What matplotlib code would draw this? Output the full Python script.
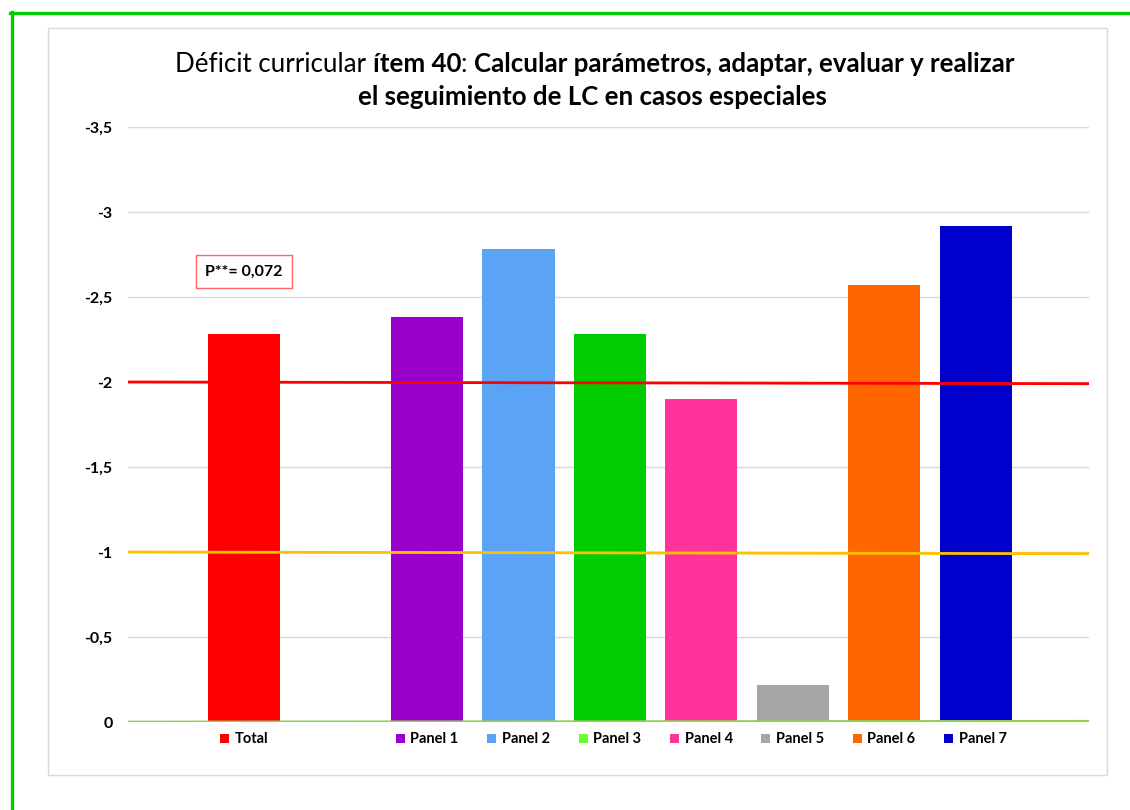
import matplotlib
matplotlib.use("Agg")
import matplotlib.pyplot as plt
import numpy as np
from matplotlib.patches import Rectangle
from matplotlib.lines import Line2D
from matplotlib.offsetbox import DrawingArea, TextArea, HPacker, AnnotationBbox

plt.rcParams['font.family'] = ['Lato', 'DejaVu Sans']

# datos
etiquetas = ["Total", "Panel 1", "Panel 2", "Panel 3", "Panel 4", "Panel 5", "Panel 6", "Panel 7"]
posiciones = [0, 2, 3, 4, 5, 6, 7, 8]
valores = [-2.28, -2.38, -2.78, -2.28, -1.90, -0.22, -2.57, -2.92]
colores = ["#FF0000", "#9900CC", "#5BA3F5", "#00CC00", "#FF3399", "#A6A6A6", "#FF6600", "#0000CC"]
colores_leyenda = ["#FF0000", "#9900CC", "#5BA3F5", "#66FF33", "#FF3399", "#A6A6A6", "#FF6600", "#0000CC"]
# lineas de referencia (valor a la izquierda, valor a la derecha)
ref_roja = [-2.0, -1.99]
ref_amarilla = [-1.0, -0.99]
ref_verde = [0.0, -0.004]
ticks_y = [0, -0.5, -1, -1.5, -2, -2.5, -3, -3.5]
ticks_txt = ["0", "-0,5", "-1", "-1,5", "-2", "-2,5", "-3", "-3,5"]
texto_p = "P**= 0,072"

fig = plt.figure(figsize=(11.3, 8.1), dpi=100)
ax = fig.add_axes([128/1130, 1-722/810, (1089-128)/1130, (722-127)/810])

xlim = (-1.27, 9.24)
ax.set_xlim(xlim)
ax.set_ylim(0, -3.5)

for y in ticks_y:
    ax.axhline(y, color="#D9D9D9", lw=1, zorder=0)

ax.bar(posiciones, valores, width=0.79, color=colores, zorder=2)

ax.plot(xlim, ref_roja, color="#FF0000", lw=2, zorder=3, solid_capstyle='butt')
ax.plot(xlim, ref_amarilla, color="#FFC000", lw=2, zorder=3, solid_capstyle='butt')
ax.plot(xlim, ref_verde, color="#92D050", lw=2, zorder=3, solid_capstyle='butt')

ax.set_yticks(ticks_y)
ax.set_yticklabels(ticks_txt, fontweight='bold', fontsize=11.5)
ax.tick_params(axis='y', length=0, pad=11)
ax.set_xticks([])
for s in ax.spines.values():
    s.set_visible(False)

# leyenda bajo cada barra
for x, lab, c in zip(posiciones, etiquetas, colores_leyenda):
    da = DrawingArea(6.5, 6.5, 0, 0)
    da.add_artist(Rectangle((0, 0), 6.5, 6.5, fc=c, ec='none'))
    ta = TextArea(lab, textprops=dict(fontsize=10.5, fontweight='bold', color='black'))
    box = HPacker(children=[da, ta], align='center', pad=0, sep=4)
    ab = AnnotationBbox(box, (x, 0), xycoords=ax.get_xaxis_transform(),
                        xybox=(0, -7), boxcoords='offset points',
                        box_alignment=(0.5, 1), frameon=False)
    ax.add_artist(ab)

# cuadro de significacion
ax.text(0.0, -2.65, texto_p, ha='center', va='center', fontsize=11.5, fontweight='bold',
        zorder=5, bbox=dict(boxstyle='square,pad=0.6', fc='white', ec='#FF6666', lw=1))

# marco del grafico y borde verde
fig.add_artist(Rectangle((48/1130, 1-775/810), 1059/1130, 747/810, transform=fig.transFigure,
                         fill=False, ec="#D9D9D9", lw=1))
fig.add_artist(Line2D([11.5/1130, 11.5/1130], [0, 1-11.5/810], transform=fig.transFigure,
                      color="#00CC00", lw=2.4))
fig.add_artist(Line2D([10/1130, 1], [1-13/810, 1-13/810], transform=fig.transFigure,
                      color="#00CC00", lw=2.4))

# titulo con partes en negrita
def linea_rica(partes, xc, y, fs):
    txts = []
    for t, w in partes:
        txts.append(fig.text(0, y, t, fontsize=fs, fontweight=w, va='center', ha='left'))
    r = fig.canvas.get_renderer()
    anchos = [tx.get_window_extent(r).width for tx in txts]
    total = sum(anchos)
    x = xc * fig.bbox.width - total / 2
    for tx, a in zip(txts, anchos):
        tx.set_x(x / fig.bbox.width)
        x += a

fig.canvas.draw()
linea_rica([("Déficit curricular ", 'normal'), ("ítem 40", 'bold'), (": ", 'normal'),
            ("Calcular parámetros, adaptar, evaluar y realizar", 'bold')], 595/1130, 1-64/810, 18.6)
linea_rica([("el seguimiento de LC en casos especiales", 'bold')], 592/1130, 1-97/810, 18.6)

fig.savefig("out.png", dpi=100)
